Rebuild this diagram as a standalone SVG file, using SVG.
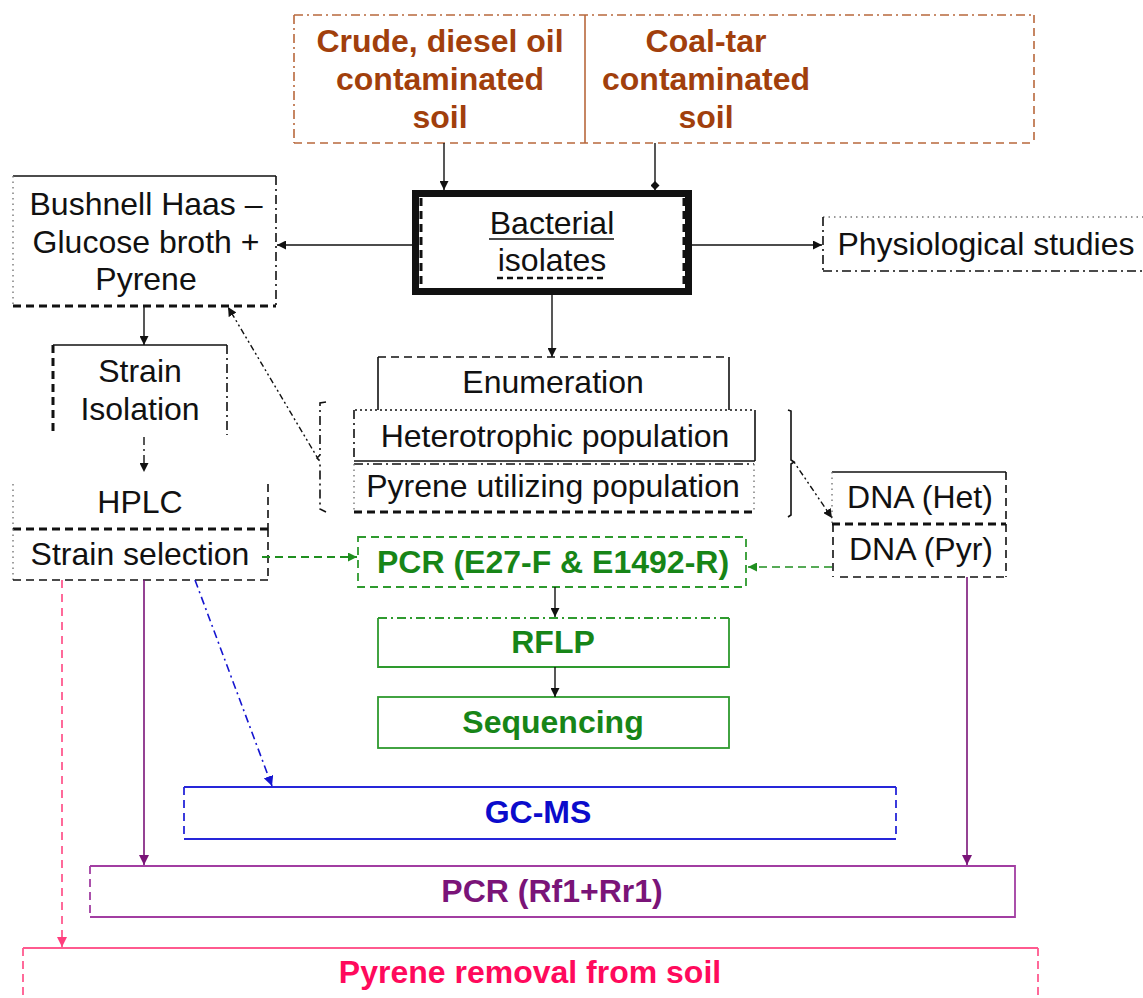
<svg xmlns="http://www.w3.org/2000/svg" width="1143" height="998" viewBox="0 0 1143 998">
  <style>
    text { font-family: "Liberation Sans", Arial, sans-serif; font-size: 32px; text-anchor: middle; }
    .k { fill: #111; }
    .b { font-weight: bold; }
    .tBrown { fill: #A13F0C; }
    .tGreen { fill: #178517; }
    .tBlue { fill: #0B0BCB; }
    .tPurple { fill: #7A1478; }
    .tPink { fill: #FF0A5C; }
    line, .ln { fill: none; }
    .solid { stroke: #111; stroke-width: 1.6; }
    .dash { stroke: #111; stroke-width: 1.6; stroke-dasharray: 8 5; }
    .dashB { stroke: #111; stroke-width: 3; stroke-dasharray: 8 5; }
    .dashdot { stroke: #111; stroke-width: 1.6; stroke-dasharray: 9 4 2 4; }
    .dot { stroke: #777; stroke-width: 1.4; stroke-dasharray: 1.5 4; }
    .dotB { stroke: #111; stroke-width: 1.6; stroke-dasharray: 2 3; }
    .dashdotdot { stroke: #111; stroke-width: 1.4; stroke-dasharray: 2 3 2 3 6 3; }
    .brown { stroke: #B8683C; stroke-width: 1.6; }
    .green { stroke: #2E9A2E; stroke-width: 1.8; }
    .blue { stroke: #2626D9; stroke-width: 1.8; }
    .purple { stroke: #A23EA2; stroke-width: 1.8; }
    .pink { stroke: #FF5A8F; stroke-width: 1.8; }
    .dsh { stroke-dasharray: 8 5; }
    .dd { stroke-dasharray: 9 4 2 4; }
    .ink { stroke: #111; stroke-width: 1.4; }
  </style>
  <defs>
    <marker id="ah" viewBox="0 0 10 10" refX="10" refY="5" markerWidth="9" markerHeight="9" markerUnits="userSpaceOnUse" orient="auto">
      <path d="M0,0 L10,5 L0,10 Z" style="fill:#111;stroke:none"/>
    </marker>
    <marker id="ahDia" viewBox="0 0 10 10" refX="10" refY="5" markerWidth="9" markerHeight="9" markerUnits="userSpaceOnUse" orient="auto">
      <path d="M0,5 L5,0 L10,5 L5,10 Z" style="fill:#111;stroke:none"/>
    </marker>
    <marker id="ahG" viewBox="0 0 10 10" refX="10" refY="5" markerWidth="9" markerHeight="9" markerUnits="userSpaceOnUse" orient="auto">
      <path d="M0,0 L10,5 L0,10 Z" style="fill:#1F8F1F;stroke:none"/>
    </marker>
    <marker id="ahB" viewBox="0 0 10 10" refX="10" refY="5" markerWidth="10" markerHeight="10" markerUnits="userSpaceOnUse" orient="auto">
      <path d="M0,0 L10,5 L0,10 Z" style="fill:#1515D0;stroke:none"/>
    </marker>
    <marker id="ahP" viewBox="0 0 10 10" refX="10" refY="5" markerWidth="10" markerHeight="10" markerUnits="userSpaceOnUse" orient="auto">
      <path d="M0,0 L10,5 L0,10 Z" style="fill:#7A1478;stroke:none"/>
    </marker>
    <marker id="ahK" viewBox="0 0 10 10" refX="10" refY="5" markerWidth="10" markerHeight="10" markerUnits="userSpaceOnUse" orient="auto">
      <path d="M0,0 L10,5 L0,10 Z" style="fill:#FF3D7D;stroke:none"/>
    </marker>
  </defs>

  <rect width="1143" height="998" fill="#fff"/>

  <!-- Source soils -->
  <g id="soils">
    <line x1="294" y1="15" x2="1034" y2="15" class="brown dd"/>
    <line x1="294" y1="143" x2="1034" y2="143" class="brown dsh"/>
    <line x1="294" y1="15" x2="294" y2="143" class="brown dd"/>
    <line x1="1034" y1="15" x2="1034" y2="143" class="brown dsh"/>
    <line x1="585" y1="15" x2="585" y2="143" class="brown"/>
    <text x="440" y="52" class="b tBrown">Crude, diesel oil</text>
    <text x="440" y="90" class="b tBrown">contaminated</text>
    <text x="440" y="128" class="b tBrown">soil</text>
    <text x="706" y="52" class="b tBrown">Coal-tar</text>
    <text x="706" y="90" class="b tBrown">contaminated</text>
    <text x="706" y="128" class="b tBrown">soil</text>
  </g>

  <!-- Bacterial isolates -->
  <g id="isolates">
    <rect x="415.5" y="193.5" width="273" height="98" class="ln" stroke="#111" stroke-width="7"/>
    <line x1="421" y1="198" x2="421" y2="288" class="dashB"/>
    <line x1="684" y1="198" x2="684" y2="288" class="dashB"/>
    <text x="552" y="234" class="k">Bacterial</text>
    <line x1="489" y1="239" x2="614" y2="239" stroke="#111" stroke-width="1.5"/>
    <text x="552" y="271" class="k">isolates</text>
    <line x1="497" y1="278" x2="606" y2="278" stroke="#111" stroke-width="2.4" stroke-dasharray="6 4"/>
  </g>

  <!-- Bushnell Haas medium -->
  <g id="bushnell">
    <line x1="13" y1="176" x2="276" y2="176" class="solid"/>
    <line x1="276" y1="176" x2="276" y2="306" class="dashdot"/>
    <line x1="13" y1="306" x2="276" y2="306" class="dashB"/>
    <line x1="13" y1="176" x2="13" y2="306" class="dot"/>
    <text x="146" y="215" class="k">Bushnell Haas –</text>
    <text x="146" y="253" class="k">Glucose broth +</text>
    <text x="146" y="290" class="k">Pyrene</text>
  </g>

  <!-- Physiological studies -->
  <g id="physio">
    <line x1="823" y1="217" x2="1143" y2="217" class="dot"/>
    <line x1="823" y1="271" x2="1143" y2="271" class="dashdot"/>
    <line x1="823" y1="217" x2="823" y2="271" class="dashdot"/>
    <text x="986" y="255" class="k">Physiological studies</text>
  </g>

  <!-- Strain isolation -->
  <g id="strain-isolation">
    <line x1="53" y1="345" x2="227" y2="345" class="solid"/>
    <line x1="53" y1="345" x2="53" y2="435" class="dashB"/>
    <line x1="227" y1="345" x2="227" y2="435" class="dashdot"/>
    <text x="140" y="382" class="k">Strain</text>
    <text x="140" y="420" class="k">Isolation</text>
  </g>

  <!-- HPLC / strain selection -->
  <g id="hplc">
    <line x1="13" y1="484" x2="13" y2="529" class="dot"/>
    <line x1="268" y1="484" x2="268" y2="529" class="dash"/>
    <line x1="13" y1="529" x2="268" y2="529" class="dashB"/>
    <text x="140" y="513" class="k">HPLC</text>
  </g>
  <g id="strain-selection">
    <line x1="13" y1="529" x2="13" y2="580" class="dot"/>
    <line x1="268" y1="529" x2="268" y2="580" class="dash"/>
    <line x1="13" y1="580" x2="268" y2="580" class="dash"/>
    <text x="140" y="565" class="k">Strain selection</text>
  </g>

  <!-- Enumeration -->
  <g id="enumeration">
    <line x1="378" y1="357" x2="729" y2="357" class="dash"/>
    <line x1="378" y1="357" x2="378" y2="410" class="solid"/>
    <line x1="729" y1="357" x2="729" y2="410" class="solid"/>
    <text x="553" y="393" class="k">Enumeration</text>
  </g>
  <g id="heterotrophic">
    <line x1="355" y1="410" x2="755" y2="410" class="dotB"/>
    <line x1="354" y1="410" x2="354" y2="461" class="dashdot"/>
    <line x1="755" y1="410" x2="755" y2="461" class="solid"/>
    <line x1="354" y1="461" x2="755" y2="461" class="solid"/>
    <text x="555" y="447" class="k">Heterotrophic population</text>
  </g>
  <g id="pyrene-utilizing">
    <line x1="354" y1="464" x2="754" y2="464" class="dashdot"/>
    <line x1="354" y1="464" x2="354" y2="512" class="dot"/>
    <line x1="754" y1="464" x2="754" y2="512" class="dot"/>
    <line x1="354" y1="512" x2="754" y2="512" class="dashB"/>
    <text x="553" y="497" class="k">Pyrene utilizing population</text>
  </g>

  <!-- Brackets grouping the population counts -->
  <g id="brackets">
    <path d="M326,402 L320,403 L320,455 L317,458 L320,461 L320,509 L326,512" class="ln dashdot"/>
    <path d="M788,410 L791,411 L791,460 L794,462 L791,464 L791,515 L788,517" class="ln solid"/>
  </g>

  <!-- DNA extracts -->
  <g id="dna-het">
    <line x1="832" y1="472" x2="1006" y2="472" class="solid"/>
    <line x1="1006" y1="472" x2="1006" y2="524" class="dash"/>
    <line x1="832" y1="472" x2="832" y2="524" class="dot"/>
    <line x1="832" y1="524" x2="1006" y2="524" class="dashB"/>
    <text x="920" y="508" class="k">DNA (Het)</text>
  </g>
  <g id="dna-pyr">
    <line x1="833" y1="524" x2="833" y2="577" class="dash"/>
    <line x1="1006" y1="524" x2="1006" y2="577" class="dash"/>
    <line x1="840" y1="577" x2="1006" y2="577" class="dash"/>
    <text x="921" y="560" class="k">DNA (Pyr)</text>
  </g>

  <!-- Molecular work -->
  <g id="pcr-16s">
    <rect x="358" y="537" width="388" height="50" class="ln green dsh"/>
    <text x="553" y="573" class="b tGreen">PCR (E27-F &amp; E1492-R)</text>
  </g>
  <g id="rflp">
    <line x1="378" y1="618" x2="729" y2="618" class="green dd"/>
    <path d="M378,618 L378,667 L729,667 L729,618" class="ln green"/>
    <text x="553" y="653" class="b tGreen">RFLP</text>
  </g>
  <g id="sequencing">
    <rect x="378" y="697" width="351" height="51" class="ln green"/>
    <text x="553" y="733" class="b tGreen">Sequencing</text>
  </g>

  <!-- Analyses -->
  <g id="gcms">
    <line x1="184" y1="787" x2="896" y2="787" class="blue"/>
    <line x1="184" y1="839" x2="896" y2="839" class="blue"/>
    <line x1="184" y1="787" x2="184" y2="839" class="blue dsh"/>
    <line x1="896" y1="787" x2="896" y2="839" class="blue dsh"/>
    <text x="538" y="823" class="b tBlue">GC-MS</text>
  </g>
  <g id="pcr-rf">
    <path d="M90,866 L1015,866 L1015,917 L90,917" class="ln purple"/>
    <line x1="90" y1="866" x2="90" y2="917" class="purple dsh"/>
    <text x="552" y="902" class="b tPurple">PCR (Rf1+Rr1)</text>
  </g>
  <g id="removal">
    <line x1="23" y1="948" x2="1038" y2="948" class="pink"/>
    <line x1="23" y1="948" x2="23" y2="998" class="pink" stroke-width="2.6" stroke-dasharray="8 5"/>
    <line x1="1038" y1="948" x2="1038" y2="998" class="pink dsh"/>
    <text x="530" y="983" class="b tPink">Pyrene removal from soil</text>
  </g>

  <!-- Connectors -->
  <g id="connectors">
    <line x1="444" y1="143" x2="444" y2="190" class="ink" marker-end="url(#ah)"/>
    <line x1="655" y1="143" x2="655" y2="190" class="ink" marker-end="url(#ahDia)"/>
    <line x1="412" y1="245" x2="277" y2="245" class="ink" marker-end="url(#ah)"/>
    <line x1="692" y1="245" x2="822" y2="245" class="ink" marker-end="url(#ah)"/>
    <line x1="552" y1="295" x2="552" y2="357" class="ink" marker-end="url(#ah)"/>
    <line x1="144" y1="306" x2="144" y2="345" class="ink" marker-end="url(#ah)"/>
    <line x1="144" y1="437" x2="144" y2="472" class="ink" stroke-dasharray="8 4 2 4" marker-end="url(#ah)"/>
    <line x1="317" y1="457" x2="228" y2="307" class="dashdotdot" marker-end="url(#ah)"/>
    <line x1="794" y1="462" x2="832" y2="518" class="dashdotdot" marker-end="url(#ah)"/>
    <line x1="262" y1="557" x2="357" y2="557" stroke="#1F8F1F" stroke-width="2.2" stroke-dasharray="8 5" marker-end="url(#ahG)"/>
    <line x1="832" y1="567" x2="748" y2="567" stroke="#1F8F1F" stroke-width="1.6" stroke-dasharray="8 5" marker-end="url(#ahG)"/>
    <line x1="555" y1="587" x2="555" y2="617" class="ink" marker-end="url(#ah)"/>
    <line x1="555" y1="667" x2="555" y2="697" class="ink" marker-end="url(#ah)"/>
    <line x1="62" y1="580" x2="62" y2="947" stroke="#FF5A8F" stroke-width="1.8" stroke-dasharray="8 6" marker-end="url(#ahK)"/>
    <line x1="144" y1="580" x2="144" y2="865" stroke="#7A1478" stroke-width="1.6" marker-end="url(#ahP)"/>
    <line x1="195" y1="580" x2="272" y2="786" stroke="#1515D0" stroke-width="1.6" stroke-dasharray="8 4 2 4" marker-end="url(#ahB)"/>
    <line x1="967" y1="577" x2="967" y2="865" stroke="#7A1478" stroke-width="1.6" marker-end="url(#ahP)"/>
  </g>
</svg>
